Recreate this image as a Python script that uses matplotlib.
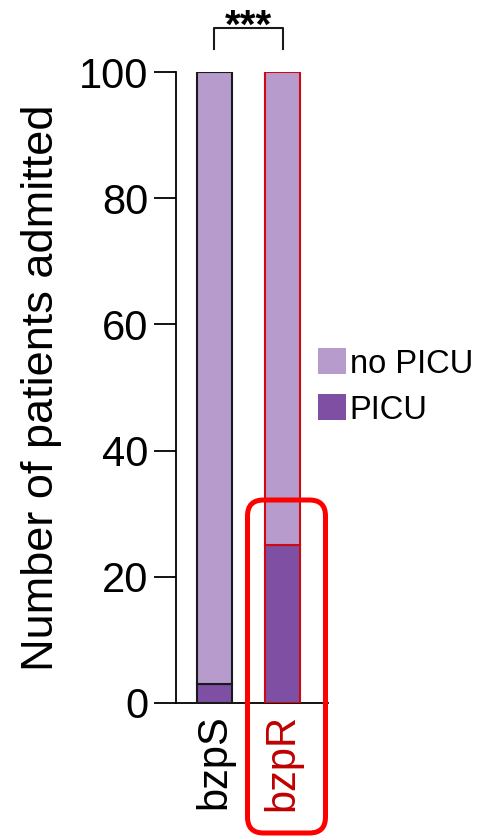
import matplotlib.pyplot as plt
from matplotlib.patches import FancyBboxPatch

plt.rcParams['font.family'] = ['Liberation Sans', 'DejaVu Sans']

# data
groups = ['bzpS', 'bzpR']
picu = [3, 25]
no_picu = [97, 75]
edge_colors = ['#1a1a1a', '#cc0a14']
label_colors = ['black', '#c00000']

light_purple = '#b79bcc'
dark_purple = '#7e4fa3'

fig = plt.figure(figsize=(4.9, 8.36), dpi=100)
ax = fig.add_axes([176 / 490, 133 / 836, 152 / 490, 631 / 836])

x = list(range(len(groups)))
width = 0.51

# stacked bars
b1 = ax.bar(x, picu, width, color=dark_purple, edgecolor=edge_colors, linewidth=1.5, label='PICU', zorder=3)
b2 = ax.bar(x, no_picu, width, bottom=picu, color=light_purple, edgecolor=edge_colors, linewidth=1.5,
            label='no PICU', zorder=3)

ax.set_xlim(-0.56, 1.66)
ax.set_ylim(0, 100)
ax.set_yticks([0, 20, 40, 60, 80, 100])

ax.spines['top'].set_visible(False)
ax.spines['right'].set_visible(False)
ax.spines['left'].set_linewidth(1.3)
ax.spines['bottom'].set_linewidth(1.3)

ax.tick_params(axis='y', length=16, width=1.3, labelsize=30, pad=4)
ax.tick_params(axis='x', length=0, labelsize=30, pad=8)
ax.set_xticks(x)
ax.set_xticklabels(groups, rotation=90)
for lbl, c in zip(ax.get_xticklabels(), label_colors):
    lbl.set_color(c)

ax.set_ylabel('Number of patients admitted', fontsize=32.5, labelpad=12)

# significance bracket
ax.plot([0, 0, 1, 1], [103.6, 107, 107, 103.6], color='#1a1a1a', linewidth=1.5, clip_on=False)
ax.text(0.5, 110.2, '***', ha='center', va='top', fontsize=29, fontweight='bold', clip_on=False)

# legend
leg = ax.legend([b2, b1], ['no PICU', 'PICU'], loc='center left', bbox_to_anchor=(318 / 490, (836 - 387) / 836),
                bbox_transform=fig.transFigure, frameon=False, fontsize=23.5, handlelength=0.85,
                handleheight=0.85, handletextpad=0.12, labelspacing=0.45, borderpad=0, borderaxespad=0)
for h in leg.legend_handles:
    h.set_edgecolor('none')

# red highlight box round bzpR
box = FancyBboxPatch((2.475, 0.03), 0.78, 3.33, boxstyle='round,pad=0,rounding_size=0.16',
                     transform=fig.dpi_scale_trans, facecolor='none', edgecolor='#ff0000',
                     linewidth=3.6, clip_on=False)
fig.add_artist(box)

fig.savefig('out.png', dpi=100)
